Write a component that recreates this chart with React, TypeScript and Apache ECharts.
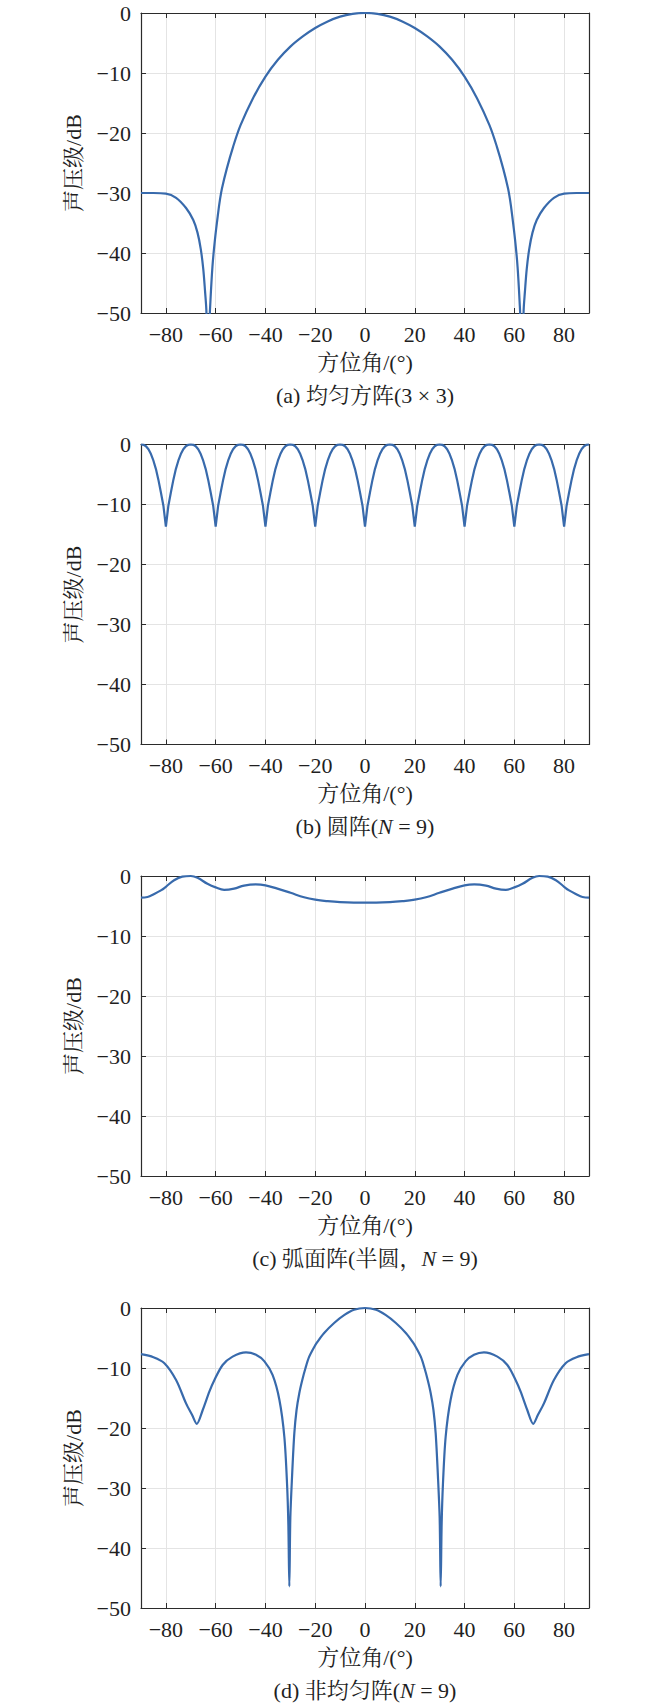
import React, { useEffect, useRef } from "react";
import * as echarts from "echarts";

// ---------- data ----------
const X_RANGE = [-90, 90];
const Y_RANGE = [-50, 0];
const Y_STEP = 10;
const X_SPLITS = 9;

// (a) uniform square array 3x3
const A_ANGLE = [-90, -85, -80, -75.9, -71.9, -69, -67.3, -66, -65, -64.3, -63.7, -63, -62.6, -62.1, -61.3, -60.3, -59, -58.3, -57.5, -55.5, -53, -50, -45, -40, -35, -30, -25, -20, -15, -10, -5,
  0,
  5, 10, 15, 20, 25, 30, 35, 40, 45, 50, 53, 55.5, 57.5, 58.3, 59, 60.3, 61.3, 62.1, 62.6, 63, 63.7, 64.3, 65, 66, 67.3, 69, 71.9, 75.9, 80, 85, 90];
const A_LEVEL = [-30.0, -30.0, -30.1, -30.8, -32.5, -34.5, -36.6, -39.3, -42.6, -46.2, -50.0, -70.0, -53.0, -48.0, -42.3, -37.8, -33.3, -31.2, -29.3, -25.9, -22.3, -18.7, -14.2, -10.6, -7.8, -5.6, -3.9, -2.5, -1.4, -0.6, -0.15,
  0,
  -0.15, -0.6, -1.4, -2.5, -3.9, -5.6, -7.8, -10.6, -14.2, -18.7, -22.3, -25.9, -29.3, -31.2, -33.3, -37.8, -42.3, -48.0, -53.0, -70.0, -50.0, -46.2, -42.6, -39.3, -36.6, -34.5, -32.5, -30.8, -30.1, -30.0, -30.0];

// (b) circular array N=9, sampled every 1 degree from -90
const B_START = -90;
const B_STEP = 1;
const B_LEVEL = [
  0, -0.05, -0.3, -0.8, -1.6, -2.7, -4.1, -5.9, -8.0, -10.2, -13.7, -10.2, -8.0, -5.9, -4.1, -2.7, -1.6, -0.8, -0.3, -0.05,
  0, -0.05, -0.3, -0.8, -1.6, -2.7, -4.1, -5.9, -8.0, -10.2, -13.7, -10.2, -8.0, -5.9, -4.1, -2.7, -1.6, -0.8, -0.3, -0.05,
  0, -0.05, -0.3, -0.8, -1.6, -2.7, -4.1, -5.9, -8.0, -10.2, -13.7, -10.2, -8.0, -5.9, -4.1, -2.7, -1.6, -0.8, -0.3, -0.05,
  0, -0.05, -0.3, -0.8, -1.6, -2.7, -4.1, -5.9, -8.0, -10.2, -13.7, -10.2, -8.0, -5.9, -4.1, -2.7, -1.6, -0.8, -0.3, -0.05,
  0, -0.05, -0.3, -0.8, -1.6, -2.7, -4.1, -5.9, -8.0, -10.2, -13.7, -10.2, -8.0, -5.9, -4.1, -2.7, -1.6, -0.8, -0.3, -0.05,
  0, -0.05, -0.3, -0.8, -1.6, -2.7, -4.1, -5.9, -8.0, -10.2, -13.7, -10.2, -8.0, -5.9, -4.1, -2.7, -1.6, -0.8, -0.3, -0.05,
  0, -0.05, -0.3, -0.8, -1.6, -2.7, -4.1, -5.9, -8.0, -10.2, -13.7, -10.2, -8.0, -5.9, -4.1, -2.7, -1.6, -0.8, -0.3, -0.05,
  0, -0.05, -0.3, -0.8, -1.6, -2.7, -4.1, -5.9, -8.0, -10.2, -13.7, -10.2, -8.0, -5.9, -4.1, -2.7, -1.6, -0.8, -0.3, -0.05,
  0, -0.05, -0.3, -0.8, -1.6, -2.7, -4.1, -5.9, -8.0, -10.2, -13.7, -10.2, -8.0, -5.9, -4.1, -2.7, -1.6, -0.8, -0.3, -0.05,
  0,
];

// (c) arc array (half circle, N=9)
const C_ANGLE = [-90, -87.4, -84.7, -82, -80, -76.7, -73.4, -70, -67.3, -63.3, -60, -56.6, -52.6, -48.6, -43.9, -40, -35.2, -29.9, -24.5, -20, -15, -10,
  0,
  10, 15, 20, 24.5, 29.9, 35.2, 40, 43.9, 48.6, 52.6, 56.6, 60, 63.3, 67.3, 70, 73.4, 76.7, 80, 82, 84.7, 87.4, 90];
const C_LEVEL = [-3.6, -3.5, -3.0, -2.4, -1.8, -0.7, -0.1, 0, -0.3, -1.3, -1.9, -2.3, -2.1, -1.6, -1.4, -1.55, -2.1, -2.8, -3.55, -3.95, -4.2, -4.35,
  -4.45,
  -4.35, -4.2, -3.95, -3.55, -2.8, -2.1, -1.55, -1.4, -1.6, -2.1, -2.3, -1.9, -1.3, -0.3, 0, -0.1, -0.7, -1.8, -2.4, -3.0, -3.5, -3.6];

// (d) non-uniform array N=9
const D_ANGLE = [-90, -85, -80.6, -75.9, -71.9, -69.5, -67.6, -65.2, -62.5, -60.5, -57.2, -53.2, -47.8, -43.8, -40.4, -37.1, -34.4, -32.4, -31.3, -30.8, -30.4, -30.0, -29.3, -28.4, -27.5, -26.4, -25.2, -23.9, -22.5, -20.4, -19.2, -16.5, -12.4, -8.4, -4.4,
  0,
  4.4, 8.4, 12.4, 16.5, 19.2, 20.4, 22.5, 23.9, 25.2, 26.4, 27.5, 28.4, 29.3, 30.0, 30.4, 30.8, 31.3, 32.4, 34.4, 37.1, 40.4, 43.8, 47.8, 53.2, 57.2, 60.5, 62.5, 65.2, 67.6, 69.5, 71.9, 75.9, 80.6, 85, 90];
const D_LEVEL = [-7.7, -8.2, -9.2, -12.0, -15.9, -17.8, -19.3, -17.0, -13.9, -12.0, -9.5, -8.1, -7.4, -7.8, -8.9, -11.2, -15.3, -21.5, -29.5, -36.0, -46.4, -35.0, -28.0, -20.9, -17.0, -14.2, -12.0, -10.0, -8.2, -6.5, -5.7, -4.2, -2.5, -1.2, -0.3,
  0,
  -0.3, -1.2, -2.5, -4.2, -5.7, -6.5, -8.2, -10.0, -12.0, -14.2, -17.0, -20.9, -28.0, -35.0, -46.4, -36.0, -29.5, -21.5, -15.3, -11.2, -8.9, -7.8, -7.4, -8.1, -9.5, -12.0, -13.9, -17.0, -19.3, -17.8, -15.9, -12.0, -9.2, -8.2, -7.7];

const CAPTIONS = [
  "(a) 均匀方阵(3 × 3)",
  "(b) 圆阵({i|N} = 9)",
  "(c) 弧面阵(半圆，{i|N} = 9)",
  "(d) 非均匀阵({i|N} = 9)",
];
const X_NAME = "方位角/(°)";
const Y_NAME = "声压级/dB";

// ---------- styling / layout ----------
const FONT = "Liberation Serif, Times New Roman, Noto Serif CJK SC, Noto Sans CJK SC, serif";
const TEXT_COLOR = "#1f1f1f";
const AXIS_COLOR = "#2b2b2b";
const GRID_COLOR = "#e4e4e4";
const LINE_COLOR = "#386aac";
const FS = 22;
const PLOT_LEFT = 141;
const PLOT_W = 448;
const PLOT_H = 300;
const PLOT_TOPS = [13, 444.5, 876, 1308];

const minus = (v: number) => String(v).replace("-", "\u2212");

function pairs(xs: number[], ys: number[]) {
  return ys.map((y, i) => [xs[i], y]);
}
function stepPairs(start: number, step: number, ys: number[]) {
  return ys.map((y, i) => [start + i * step, y]);
}

export default function App() {
  const ref = useRef<HTMLDivElement>(null);

  useEffect(() => {
    if (!ref.current) return;
    const chart = echarts.init(ref.current, null, { renderer: "svg" });

    const datasets = [
      pairs(A_ANGLE, A_LEVEL),
      stepPairs(B_START, B_STEP, B_LEVEL),
      pairs(C_ANGLE, C_LEVEL),
      pairs(D_ANGLE, D_LEVEL),
    ];
    const smooths = [0.35, false, 0.4, 0.3];
    const clips = [true, false, false, false];

    const grid: any[] = [];
    const xAxis: any[] = [];
    const yAxis: any[] = [];
    const series: any[] = [];
    const graphic: any[] = [];

    const lineCommon = { show: true, onZero: false, lineStyle: { color: AXIS_COLOR, width: 1.2 } };
    const tickCommon = { show: true, inside: true, length: 5, lineStyle: { color: AXIS_COLOR, width: 1 } };

    PLOT_TOPS.forEach((top, i) => {
      grid.push({ left: PLOT_LEFT, top, width: PLOT_W, height: PLOT_H, containLabel: false });
      xAxis.push({
        type: "value",
        gridIndex: i,
        position: "bottom",
        min: X_RANGE[0],
        max: X_RANGE[1],
        splitNumber: X_SPLITS,
        axisLine: lineCommon,
        axisTick: tickCommon,
        axisLabel: {
          show: true,
          showMinLabel: false,
          showMaxLabel: false,
          margin: 10,
          fontSize: FS,
          fontFamily: FONT,
          color: TEXT_COLOR,
          formatter: minus,
        },
        splitLine: { show: true, lineStyle: { color: GRID_COLOR, width: 1 } },
        name: X_NAME,
        nameLocation: "middle",
        nameGap: 38,
        nameTextStyle: { fontSize: FS, fontFamily: FONT, color: TEXT_COLOR },
      });
      xAxis.push({
        type: "value",
        gridIndex: i,
        position: "top",
        min: X_RANGE[0],
        max: X_RANGE[1],
        splitNumber: X_SPLITS,
        axisLine: lineCommon,
        axisTick: tickCommon,
        axisLabel: { show: false },
        splitLine: { show: false },
      });
      yAxis.push({
        type: "value",
        gridIndex: i,
        position: "left",
        min: Y_RANGE[0],
        max: Y_RANGE[1],
        interval: Y_STEP,
        axisLine: lineCommon,
        axisTick: tickCommon,
        axisLabel: {
          show: true,
          margin: 10,
          fontSize: FS,
          fontFamily: FONT,
          color: TEXT_COLOR,
          formatter: minus,
        },
        splitLine: { show: true, lineStyle: { color: GRID_COLOR, width: 1 } },
        name: Y_NAME,
        nameLocation: "middle",
        nameGap: 57,
        nameTextStyle: { fontSize: FS, fontFamily: FONT, color: TEXT_COLOR },
      });
      yAxis.push({
        type: "value",
        gridIndex: i,
        position: "right",
        min: Y_RANGE[0],
        max: Y_RANGE[1],
        interval: Y_STEP,
        axisLine: lineCommon,
        axisTick: tickCommon,
        axisLabel: { show: false },
        splitLine: { show: false },
      });

      series.push({
        type: "line",
        xAxisIndex: i * 2,
        yAxisIndex: i * 2,
        data: datasets[i],
        showSymbol: false,
        symbol: "none",
        smooth: smooths[i],
        clip: clips[i],
        lineStyle: { color: LINE_COLOR, width: 2.2 },
        z: 3,
      });

      graphic.push({
        type: "text",
        x: PLOT_LEFT + PLOT_W / 2,
        y: top + PLOT_H + 82,
        style: {
          text: CAPTIONS[i],
          fill: TEXT_COLOR,
          fontSize: FS,
          fontFamily: FONT,
          align: "center",
          verticalAlign: "middle",
          textAlign: "center",
          textVerticalAlign: "middle",
          rich: {
            i: { fontSize: FS, fontFamily: FONT, fontStyle: "italic", fill: TEXT_COLOR, color: TEXT_COLOR },
          },
        },
      });
    });

    chart.setOption({
      animation: false,
      backgroundColor: "#ffffff",
      grid,
      xAxis,
      yAxis,
      series,
      graphic,
    });

    return () => chart.dispose();
  }, []);

  return (
    <div
      ref={ref}
      style={{ position: "absolute", left: 0, top: 0, width: 650, height: 1704, background: "#fff" }}
    />
  );
}
